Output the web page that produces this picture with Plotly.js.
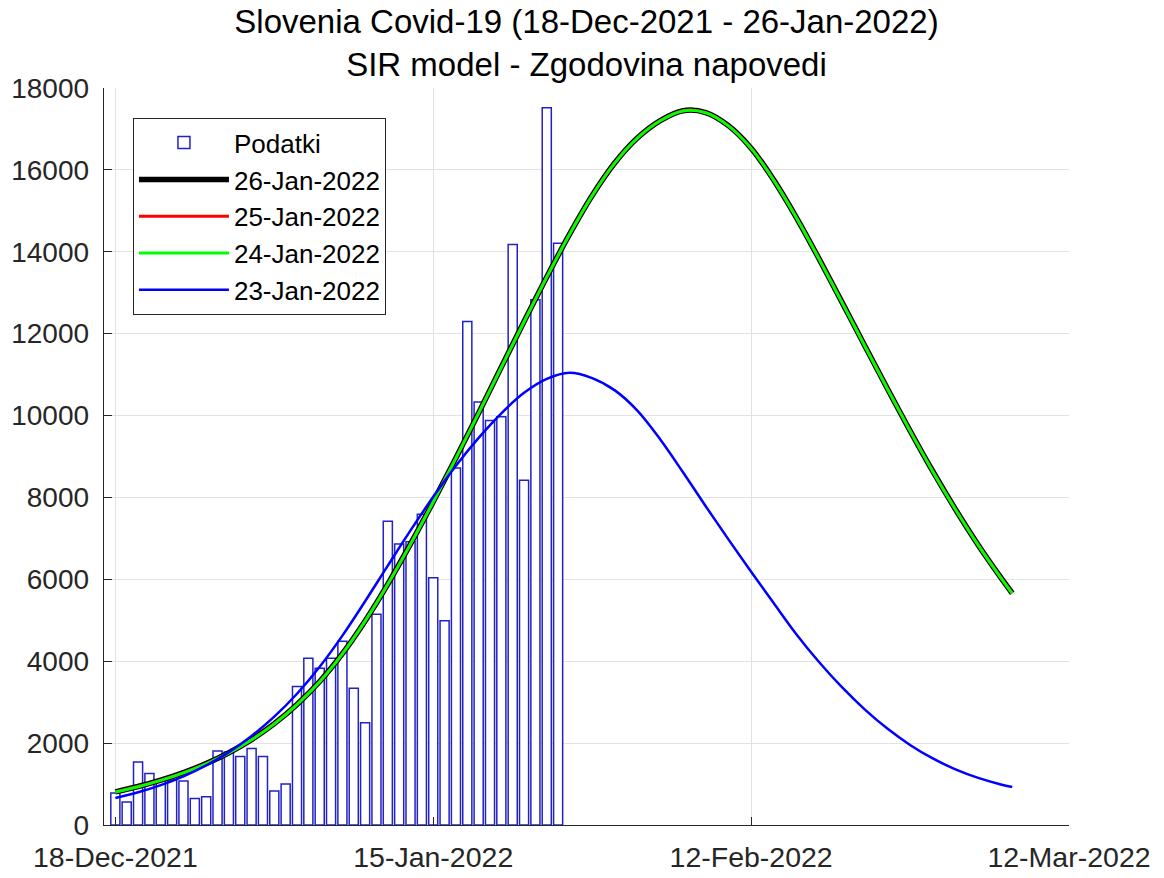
<!DOCTYPE html>
<html><head><meta charset="utf-8">
<script src="https://cdn.plot.ly/plotly-3.0.1.min.js"></script>
<style>html,body{margin:0;padding:0;background:#fff}#chart{width:1164px;height:878px}</style>
</head><body><div id="chart"></div>
<script>
// ---- data ----
const barStartDate = '2021-12-18';
const dailyCases = [780, 560, 1540, 1260, 1100, 1100, 1075, 650, 690, 1810,
  1780, 1670, 1870, 1670, 830, 1000, 3380, 4070, 3830, 4070,
  4490, 3340, 2500, 5150, 7420, 6860, 6920, 7590, 6040, 4990,
  8720, 12300, 10330, 9880, 9970, 14180, 8420, 12830, 17520, 14210];

const modelStartDate = '2021-12-18';
const modelDayOffsets = [0,2,4,6,8,10,12,14,16,18,20,22,24,26,28,30,32,34,36,38,
  40,42,44,46,48,50,52,54,56,58,60,62,64,66,68,70,72,74,76,78,79];
const fit26Jan = [810,940,1095,1280,1500,1765,2085,2475,2945,3505,4185,4985,5885,6865,7895,8965,10065,11185,12295,13385,
  14425,15375,16175,16785,17205,17445,17400,17080,16530,15750,14830,13820,12770,11710,10660,9630,8640,7710,6840,6040,5660];
const fit25Jan = [810,940,1095,1280,1500,1765,2085,2475,2945,3505,4185,4985,5885,6865,7895,8965,10065,11185,12295,13385,
  14425,15375,16175,16785,17205,17445,17400,17080,16530,15750,14830,13820,12770,11710,10660,9630,8640,7710,6840,6040,5660];
const fit24Jan = [805,935,1090,1275,1495,1760,2080,2470,2940,3500,4180,4980,5880,6860,7890,8960,10060,11180,12290,13380,
  14420,15370,16170,16780,17200,17440,17395,17075,16525,15745,14825,13815,12765,11705,10655,9625,8635,7705,6835,6035,5655];
const fit23Jan = [660,800,975,1190,1455,1780,2175,2645,3205,3865,4625,5465,6335,7195,8015,8775,9455,10055,10555,10895,
  11045,10915,10615,10115,9415,8615,7785,6975,6185,5415,4655,3975,3365,2825,2355,1955,1625,1360,1150,990,930];

const xTickVals = ['2021-12-18','2022-01-15','2022-02-12','2022-03-12'];
const xTickText = ['18-Dec-2021','15-Jan-2022','12-Feb-2022','12-Mar-2022'];
const yTickVals = [0,2000,4000,6000,8000,10000,12000,14000,16000,18000];
const seriesNames = ['Podatki','26-Jan-2022','25-Jan-2022','24-Jan-2022','23-Jan-2022'];
const titleLines = ['Slovenia Covid-19 (18-Dec-2021 - 26-Jan-2022)','SIR model - Zgodovina napovedi'];

// ---- helpers ----
const DAY = 86400000;
function dayAfter(start, n){
  const t = Date.parse(start + 'T00:00:00Z') + n*DAY;
  return new Date(t).toISOString().slice(0,10);
}
const barDates = dailyCases.map((_, i) => dayAfter(barStartDate, i));
const modelDates = modelDayOffsets.map(d => dayAfter(modelStartDate, d));

const FONT = 'Liberation Sans, Arial, Helvetica, sans-serif';
const traces = [
  {type:'bar', name:seriesNames[0], x:barDates, y:dailyCases, width:0.8*DAY,
   marker:{color:'#ffffff', line:{color:'rgb(34,34,196)', width:1.5}}},
  {type:'scatter', mode:'lines', name:seriesNames[1], x:modelDates, y:fit26Jan,
   line:{color:'#000000', width:5.5, shape:'spline', smoothing:1}},
  {type:'scatter', mode:'lines', name:seriesNames[2], x:modelDates, y:fit25Jan,
   line:{color:'#ff0000', width:3, shape:'spline', smoothing:1}},
  {type:'scatter', mode:'lines', name:seriesNames[3], x:modelDates, y:fit24Jan,
   line:{color:'#00ff00', width:3, shape:'spline', smoothing:1}},
  {type:'scatter', mode:'lines', name:seriesNames[4], x:modelDates, y:fit23Jan,
   line:{color:'#0000ff', width:2.5, shape:'spline', smoothing:1}}
];

const layout = {
  width:1164, height:878,
  paper_bgcolor:'#ffffff', plot_bgcolor:'#ffffff',
  margin:{l:104, r:95, t:88, b:53},
  font:{family:FONT, color:'#262626'},
  showlegend:true,
  title:{text:titleLines.join('<br>'), font:{family:FONT, size:33, color:'#000000'},
    x:0.5, xref:'paper', xanchor:'center', y:0.962, yref:'container', yanchor:'top'},
  xaxis:{type:'date', range:['2021-12-17','2022-03-12'], tickvals:xTickVals, ticktext:xTickText,
    ticks:'inside', ticklen:8, tickwidth:1, tickcolor:'#262626',
    showline:true, linecolor:'#262626', linewidth:1.3,
    showgrid:true, gridcolor:'#e2e2e2', gridwidth:1, zeroline:false,
    tickfont:{size:28.5, family:FONT, color:'#262626'}, ticklabelstandoff:6, fixedrange:true},
  yaxis:{range:[0,18000], tickvals:yTickVals, tickformat:'d',
    ticks:'inside', ticklen:8, tickwidth:1, tickcolor:'#262626',
    showline:true, linecolor:'#262626', linewidth:1.3,
    showgrid:true, gridcolor:'#e2e2e2', gridwidth:1, zeroline:false,
    tickfont:{size:28, family:FONT, color:'#262626'}, ticklabelstandoff:8, fixedrange:true},
  legend:{x:0.030, y:0.959, xanchor:'left', yanchor:'top', xref:'paper', yref:'paper',
    bgcolor:'#ffffff', bordercolor:'#262626', borderwidth:1,
    font:{size:26, family:FONT, color:'#000000'}, itemwidth:90, traceorder:'normal',
    tracegroupgap:0},
  bargap:0
};

Plotly.newPlot('chart', traces, layout, {displayModeBar:false, staticPlot:true});
</script>
</body></html>
